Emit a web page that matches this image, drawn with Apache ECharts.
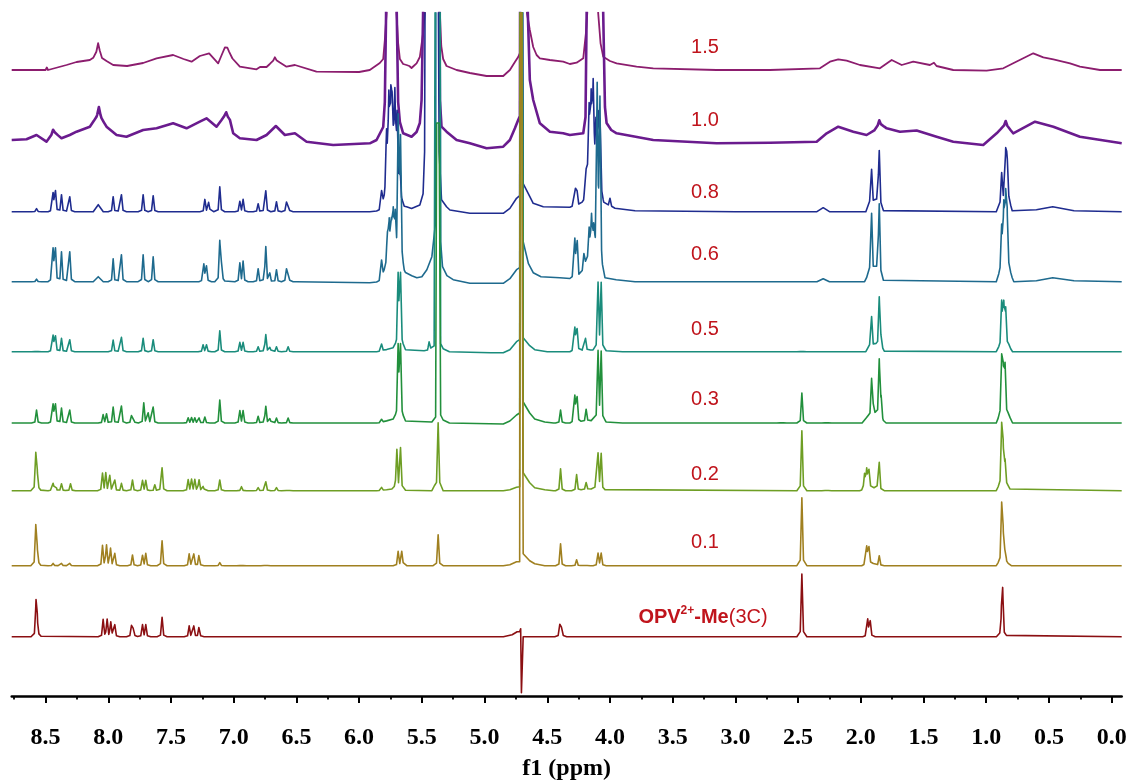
<!DOCTYPE html>
<html><head><meta charset="utf-8">
<script src="https://cdn.jsdelivr.net/npm/echarts@6/dist/echarts.min.js"></script>
<style>html,body{margin:0;padding:0;background:#fff}#c{width:1127px;height:782px}</style>
</head><body><div id="c"></div>
<script>
// ---- axis ticks (ppm) ----
const tickValues = [8.5, 8.0, 7.5, 7.0, 6.5, 6.0, 5.5, 5.0, 4.5, 4.0, 3.5, 3.0, 2.5, 2.0, 1.5, 1.0, 0.5, 0.0];
const minorTickValues = [8.75, 8.25, 7.75, 7.25, 6.75, 6.25, 5.75, 5.25, 4.75, 4.25, 3.75, 3.25, 2.75, 2.25, 1.75, 1.25, 0.75, 0.25];

// ---- spectrum names (equivalents), top to bottom ----
const spectrumNames = ['1.5', '1.0', '0.8', '0.6', '0.5', '0.3', '0.2', '0.1', 'OPV2+-Me(3C)'];

// ---- each spectrum: envelope vertices [ppm, intensity] and sharp peaks [ppm, height above envelope] ----
const env15 = [[8.77,1],[8.60,1],[8.50,1],[8.49,3.5],[8.48,1],[8.333,6],[8.253,9],[8.147,11],[8.11,14],[8.095,19],[8.081,25],[8.068,20],[8.05,13],[8.014,10],[7.961,6],[7.85,5],[7.722,8],[7.615,12.7],[7.483,16],[7.40,12],[7.336,9.3],[7.27,15],[7.196,17.7],[7.124,7.7],[7.084,19.3],[7.062,21],[7.036,19],[7.004,11],[6.951,4.3],[6.818,1.7],[6.79,4],[6.738,4],[6.672,11.7],[6.579,4.3],[6.512,6],[6.34,-0.7],[6.0,-1],[5.915,1],[5.835,8],[5.808,12],[5.795,31],[5.781,58],[5.77,200],[5.715,200],[5.702,58],[5.689,28],[5.675,12],[5.649,7],[5.622,6],[5.60,5],[5.582,3],[5.565,5],[5.542,7.7],[5.516,14],[5.49,38],[5.476,58],[5.465,200],[5.37,200],[5.356,58],[5.345,25],[5.33,12],[5.303,5],[5.223,1],[5.117,-2],[4.984,-5],[4.851,-5],[4.798,1],[4.758,9],[4.732,14],[4.718,18],[4.708,900],[4.675,900],[4.662,58],[4.639,41],[4.612,24],[4.585,16],[4.559,12.7],[4.479,11],[4.373,9.3],[4.32,7],[4.266,8.3],[4.213,12.7],[4.192,37.7],[4.181,58],[4.17,200],[4.105,200],[4.094,58],[4.075,27.7],[4.054,14.3],[4.0,10],[3.947,7.7],[3.788,4.3],[3.655,2.7],[3.15,1],[2.725,1],[2.326,2.7],[2.246,9.3],[2.18,11.7],[2.113,10.3],[2.007,6],[1.848,2.7],[1.754,11],[1.674,6],[1.582,9.3],[1.449,6],[1.417,8.3],[1.396,5],[1.263,1],[0.997,0.3],[0.864,2.7],[0.785,7.7],[0.705,12.7],[0.625,17.7],[0.545,13.7],[0.465,11.7],[0.332,7.7],[0.253,4.3],[0.093,1],[-0.08,1]];
const pk15 = [[8.08,3],[7.07,3],[7.05,3],[6.672,2]];

const env10 = [[8.77,2],[8.652,2.7],[8.572,7],[8.493,0.3],[8.434,10.3],[8.373,3.7],[8.307,7],[8.253,10.3],[8.147,15.3],[8.094,25],[8.075,32],[8.054,23.7],[8.014,15.3],[7.934,7],[7.855,5.3],[7.722,12],[7.615,13.7],[7.483,18.7],[7.376,13.7],[7.27,20.3],[7.217,23.7],[7.137,15.3],[7.079,25],[7.057,27],[7.03,22],[7.004,8.7],[6.951,3.7],[6.818,2],[6.738,7],[6.664,16],[6.592,7],[6.512,8.7],[6.419,0.3],[6.207,-3],[5.915,-1.3],[5.861,2],[5.808,15],[5.795,40],[5.785,129],[5.775,400],[5.71,400],[5.70,129],[5.689,40],[5.675,20],[5.649,8.7],[5.582,5.3],[5.542,10],[5.516,19],[5.502,42],[5.49,129],[5.48,400],[5.37,400],[5.356,42],[5.343,15.3],[5.303,10.3],[5.223,2],[5.117,-1.3],[4.984,-6.3],[4.851,-4.7],[4.798,2],[4.758,13.7],[4.732,22],[4.718,26],[4.708,900],[4.675,900],[4.655,129],[4.639,62],[4.612,42],[4.559,18.7],[4.479,10.3],[4.373,8.7],[4.32,7],[4.213,8.7],[4.195,25],[4.186,129],[4.175,400],[4.07,400],[4.054,129],[4.04,35],[4.027,19],[3.99,12],[3.947,8.7],[3.655,2],[3.15,-1.3],[2.725,-0.7],[2.352,0.3],[2.272,8.7],[2.18,15.3],[2.06,10.3],[1.954,7],[1.887,12],[1.853,18.7],[1.794,13.7],[1.688,10.3],[1.555,11.5],[1.396,5.3],[1.263,0.3],[1.024,-3],[0.917,8.7],[0.845,18],[0.785,8.7],[0.611,20.3],[0.465,15.3],[0.253,5.3],[-0.08,-1.3]];
const pk10 = [[8.44,3],[8.075,3],[7.06,3],[1.853,3],[0.845,3]];

const env08 = [[8.77,0],[8.12,0],[8.08,7],[8.04,0],[6.50,0],[5.915,0],[5.84,1],[5.80,12],[5.785,28],[5.70,28],[5.675,15],[5.64,5],[5.622,5],[5.582,3.3],[5.516,6.7],[5.49,18],[5.478,60],[5.468,500],[5.38,500],[5.362,60],[5.343,12],[5.303,5],[5.276,1.7],[5.117,-1.6],[4.851,-1.6],[4.798,3.3],[4.745,13.4],[4.72,16],[4.712,900],[4.70,900],[4.692,28],[4.678,26.7],[4.639,15],[4.612,8.4],[4.532,5],[4.32,4.4],[4.24,6],[4.21,12],[4.19,40],[4.08,40],[4.065,15],[4.05,8],[3.95,3],[3.80,1],[3.0,0],[2.35,0],[2.30,4],[2.25,0],[1.96,0],[1.93,8],[1.86,10],[1.82,0],[0.92,0],[0.88,10],[0.82,10],[0.79,0],[0.60,2],[0.47,5],[0.30,1],[-0.08,0]];
const pk08 = [[8.572,3],[8.44,18],[8.421,20],[8.373,17],[8.307,15],[7.961,15],[7.895,17],[7.722,17],[7.642,16],[7.230,12],[7.20,9],[7.111,25],[6.951,10],[6.925,12],[6.805,8],[6.744,21],[6.659,10],[6.579,9],[6.566,9],[5.821,15],[5.781,48],[5.763,82],[5.747,84],[5.734,75],[5.715,85],[5.697,67],[5.675,30],[4.275,17],[4.262,14],[4.166,62],[4.15,72],[4.134,84],[4.112,45],[4.094,55],[4.078,45],[4.0,8],[1.914,34],[1.853,53],[0.877,28],[0.845,47],[0.833,42]];

const env06 = [[8.77,0],[8.12,0],[8.08,5],[8.04,0],[6.50,0],[5.915,-1],[5.84,0],[5.80,10],[5.78,18],[5.66,18],[5.64,8],[5.622,10],[5.58,6],[5.54,4],[5.50,5],[5.46,12],[5.42,25],[5.39,60],[5.382,900],[5.362,900],[5.35,40],[5.335,15],[5.30,6],[5.25,2],[5.117,-1.6],[4.851,-1.6],[4.798,3],[4.745,12],[4.72,14],[4.712,900],[4.70,900],[4.692,40],[4.678,38],[4.65,18],[4.612,9],[4.55,5],[4.40,4],[4.30,3],[4.24,4],[4.215,12],[4.19,20],[4.13,30],[4.07,20],[4.06,8],[4.04,4],[3.95,2],[3.80,0],[2.35,0],[2.30,3],[2.25,0],[1.97,0],[1.93,10],[1.86,12],[1.82,0],[0.92,0],[0.88,12],[0.82,12],[0.78,0],[0.60,1],[0.47,4],[0.30,1],[-0.08,0]];
const pk06 = [[8.572,2.5],[8.44,32],[8.421,32],[8.373,30],[8.307,30],[7.961,23],[7.895,27],[7.722,27],[7.642,25],[7.238,17],[7.217,15],[7.111,40],[7.097,18],[6.951,18],[6.925,20],[6.805,13],[6.744,35],[6.712,8],[6.659,12],[6.579,12],[6.566,12],[5.821,17],[5.774,28],[5.76,40],[5.742,38],[5.728,50],[5.712,43],[5.688,140],[5.670,120],[4.28,38],[4.261,35],[4.208,14],[4.166,28],[4.147,38],[4.13,20],[4.102,165],[4.08,155],[1.914,58],[1.853,68],[0.877,40],[0.860,60],[0.845,68],[0.833,50]];

const env05 = [[8.77,0],[5.84,0],[5.70,5],[5.66,5],[5.62,1],[5.45,1],[5.40,6],[5.382,900],[5.362,900],[5.35,8],[5.33,3],[5.28,0],[4.95,-1],[4.851,-1],[4.798,2],[4.745,10],[4.72,12],[4.712,900],[4.70,900],[4.692,14],[4.678,13],[4.64,6],[4.60,2],[4.50,0],[4.30,0],[4.24,1],[4.11,2],[4.04,1],[3.90,0],[1.96,0],[1.93,5],[1.86,6],[1.82,0],[0.92,0],[0.88,6],[0.82,6],[0.79,0],[-0.08,0]];
const pk05 = [[8.572,1.5],[8.44,15.7],[8.421,15],[8.373,13.3],[8.307,12],[7.961,11.7],[7.895,14.3],[7.722,13.3],[7.642,12],[7.244,6.7],[7.217,6.7],[7.111,21],[6.951,9],[6.925,9],[6.805,5],[6.744,17],[6.712,4],[6.659,5],[6.566,5],[5.821,7],[5.689,70],[5.670,70],[5.442,8],[4.28,23],[4.262,21],[4.195,12],[4.095,65],[4.07,65],[2.47,1.5],[1.914,30],[1.853,49],[1.838,12],[0.877,42],[0.86,40],[0.845,35]];

const env03 = [[8.77,0],[5.84,0],[5.70,5],[5.66,5],[5.62,1],[5.42,1],[5.39,6],[5.382,300],[5.362,300],[5.35,8],[5.33,3],[5.28,0],[4.851,-1],[4.798,2],[4.745,8],[4.72,10],[4.712,900],[4.70,900],[4.692,21],[4.678,20],[4.64,10],[4.60,4],[4.52,1],[4.45,0],[4.30,0],[4.24,1],[4.11,3],[4.04,1],[3.90,0],[1.99,0],[1.95,6],[1.86,8],[1.82,0],[0.92,0],[0.88,8],[0.82,8],[0.79,0],[-0.08,0]];
const pk03 = [[8.572,13],[8.44,18],[8.421,18],[8.373,15],[8.307,13],[8.041,8],[8.014,9],[7.961,16],[7.895,17],[7.815,7],[7.80,6],[7.717,20],[7.682,10],[7.642,16],[7.363,5],[7.336,5],[7.310,5],[7.276,5],[7.23,6],[7.111,23],[6.951,12],[6.925,12],[6.805,6.7],[6.744,16.7],[6.712,4],[6.659,5],[6.566,5],[5.821,3],[5.689,70],[5.670,70],[4.394,13],[4.28,26],[4.262,24],[4.19,12],[4.095,67],[4.07,67],[2.63,2],[2.47,30],[2.272,2],[1.914,37],[1.90,10],[1.853,56],[1.838,20],[0.877,52],[0.865,48],[0.85,47]];

const env02 = [[8.77,0],[5.84,0],[5.72,2],[5.66,2],[5.62,0],[5.42,0],[5.40,3],[5.35,3],[5.33,0],[4.851,0],[4.798,1],[4.745,3.5],[4.72,4],[4.712,900],[4.70,900],[4.692,18],[4.678,17],[4.64,8],[4.60,3],[4.52,1],[4.45,0],[4.30,0],[4.12,2],[4.04,0],[1.98,0],[1.95,3],[1.87,3],[1.84,0],[0.92,0],[0.88,5],[0.83,5],[0.80,0],[-0.08,0]];
const pk02 = [[8.578,36],[8.566,16],[8.44,7],[8.421,6],[8.373,7],[8.301,7],[8.046,17],[8.020,17],[7.988,15],[7.948,10.7],[7.895,7.3],[7.807,10.7],[7.727,10],[7.701,10],[7.629,6],[7.571,23],[7.363,10.7],[7.336,10.7],[7.310,10.7],[7.276,10.7],[7.244,4],[7.111,10.7],[6.938,4],[6.805,3],[6.744,9],[6.659,3],[6.566,2],[5.821,3],[5.699,38],[5.670,40],[5.37,65],[4.394,22],[4.266,15.7],[4.19,7],[4.095,35],[4.07,35],[2.47,60],[2.272,2],[1.97,15],[1.953,18],[1.935,17],[1.853,27],[0.877,57],[0.865,36],[0.85,22]];

const env01 = [[8.77,0],[4.851,0],[4.798,1],[4.745,4],[4.72,4],[4.712,900],[4.70,900],[4.692,12],[4.678,11],[4.64,5],[4.60,2],[4.52,0],[4.0,0],[1.98,0],[1.95,2],[1.90,2],[1.86,0],[0.92,0],[0.88,3],[0.84,3],[0.80,0],[-0.08,0]];
const pk01 = [[8.578,39],[8.566,14],[8.44,2.3],[8.373,2.3],[8.307,2.3],[8.046,20],[8.014,20],[7.982,17],[7.948,12],[7.807,10.7],[7.727,10],[7.701,12],[7.571,25],[7.355,11.7],[7.318,11.7],[7.276,11.7],[7.111,3],[6.938,1.5],[6.744,2],[5.689,14],[5.660,14],[5.37,31],[4.394,22],[4.266,6],[4.195,2],[4.095,12],[4.07,12],[2.47,68],[1.953,17],[1.935,16],[1.853,10],[0.877,56],[0.865,28],[0.85,10]];

const envOPV = [[8.77,0],[4.85,0],[4.78,2],[4.74,5],[4.72,5],[4.712,8],[4.706,-56],[4.699,-56],[4.692,0],[4.68,2],[4.64,0],[-0.08,0]];
const pkOPV = [[8.576,33],[8.566,14],[8.041,17],[8.009,16.7],[7.980,14],[7.948,11.7],[7.815,10.7],[7.80,9],[7.727,11.7],[7.701,11.7],[7.571,19.3],[7.355,10.7],[7.318,10.7],[7.276,10.7],[4.40,11.7],[4.385,10],[2.47,62.7],[1.945,17],[1.925,15],[0.879,18],[0.869,44]];

// ---- layout / style (not data) ----
const stackOffsets = [625, 554, 484.3, 414.3, 344.3, 273, 205.3, 130.3, 59.3];
const colors = ['#8C1D6E', '#6A1B8E', '#1F2C8F', '#1E6A8E', '#1A8C7C', '#22903C', '#6E9E24', '#A08020', '#8B0F12'];
const widths = [1.8, 2.6, 1.6, 1.6, 1.6, 1.6, 1.6, 1.6, 1.6];
const tipHalfWidth = 0.013, footHalfWidth = 0.04, footShare = 0.12;

const spectra = [[env15, pk15], [env10, pk10], [env08, pk08], [env06, pk06], [env05, pk05], [env03, pk03], [env02, pk02], [env01, pk01], [envOPV, pkOPV]];

function envAt(env, x) {
  if (x >= env[0][0]) return env[0][1];
  for (let i = 0; i < env.length - 1; i++) {
    const a = env[i], b = env[i + 1];
    if (x <= a[0] && x >= b[0]) {
      if (a[0] === b[0]) return a[1];
      const t = (a[0] - x) / (a[0] - b[0]);
      return a[1] + t * (b[1] - a[1]);
    }
  }
  return env[env.length - 1][1];
}
function tri(x, c, d) { const w = 1 - Math.abs(x - c) / d; return w > 0 ? w : 0; }
function buildSpectrum(env, peaks, offset) {
  const xs = env.map(p => p[0]);
  peaks.forEach(p => xs.push(p[0] - footHalfWidth, p[0] - tipHalfWidth, p[0], p[0] + tipHalfWidth, p[0] + footHalfWidth));
  const uniq = Array.from(new Set(xs.map(x => +x.toFixed(4)))).sort((a, b) => b - a);
  return uniq.map(x => {
    let y = envAt(env, x);
    peaks.forEach(p => {
      y += p[1] * ((1 - footShare) * tri(x, p[0], tipHalfWidth) + footShare * tri(x, p[0], footHalfWidth));
    });
    return [x, offset + y];
  });
}

const series = spectra.map((s, i) => ({
  name: spectrumNames[i],
  type: 'line',
  data: buildSpectrum(s[0], s[1], stackOffsets[i]),
  showSymbol: false,
  symbol: 'none',
  clip: true,
  silent: true,
  lineStyle: { color: colors[i], width: widths[i], join: 'round' },
  z: 2 + i
}));

const labelFont = '20px "Liberation Sans", Arial, sans-serif';
const labelColor = '#C0141C';
const labelYs = [47, 120, 192, 254, 329, 399, 474, 542];
const graphics = labelYs.map((y, i) => ({
  type: 'text', x: 705, y: y, z: 100,
  style: { text: spectrumNames[i], font: labelFont, fill: labelColor, align: 'center', verticalAlign: 'middle' }
}));
graphics.push({
  type: 'text', x: 703, y: 617, z: 100,
  style: {
    text: '{b|OPV}{s|2+}{b|-Me}{n|(3C)}',
    align: 'center', verticalAlign: 'middle',
    rich: {
      b: { fontFamily: '"Liberation Sans", Arial, sans-serif', fontWeight: 'bold', fontSize: 20, fill: labelColor, lineHeight: 24 },
      s: { fontFamily: '"Liberation Sans", Arial, sans-serif', fontWeight: 'bold', fontSize: 12, fill: labelColor, lineHeight: 24, verticalAlign: 'top', padding: [0, 0, 10, 0] },
      n: { fontFamily: '"Liberation Sans", Arial, sans-serif', fontSize: 20, fill: labelColor, lineHeight: 24 }
    }
  }
});

const chart = echarts.init(document.getElementById('c'), null, { renderer: 'canvas' });
chart.setOption({
  animation: false,
  backgroundColor: '#fff',
  grid: { left: 11.7, right: 5.3, top: 13, bottom: 86, containLabel: false, outerBoundsMode: 'none' },
  xAxis: [{
    type: 'value', inverse: true, min: -0.08, max: 8.77,
    axisLine: { show: true, lineStyle: { color: '#000', width: 2.5 } },
    axisTick: { show: true, customValues: tickValues, length: 7, lineStyle: { color: '#000', width: 2 } },
    axisLabel: { show: true, customValues: tickValues, formatter: v => Number(v).toFixed(1), margin: 30,
      fontFamily: '"Liberation Serif", "Times New Roman", serif', fontWeight: 'bold', fontSize: 24, color: '#000' },
    splitLine: { show: false },
    name: 'f1 (ppm)', nameLocation: 'middle', nameGap: 61,
    nameTextStyle: { fontFamily: '"Liberation Serif", "Times New Roman", serif', fontWeight: 'bold', fontSize: 24, color: '#000' }
  }, {
    type: 'value', inverse: true, min: -0.08, max: 8.77, position: 'bottom',
    axisLine: { show: false },
    axisTick: { show: true, customValues: minorTickValues, length: 3.5, lineStyle: { color: '#000', width: 1.8 } },
    axisLabel: { show: false },
    splitLine: { show: false }
  }],
  yAxis: { type: 'value', min: 0, max: 683, show: false },
  series: series,
  graphic: graphics
});
</script></body></html>
